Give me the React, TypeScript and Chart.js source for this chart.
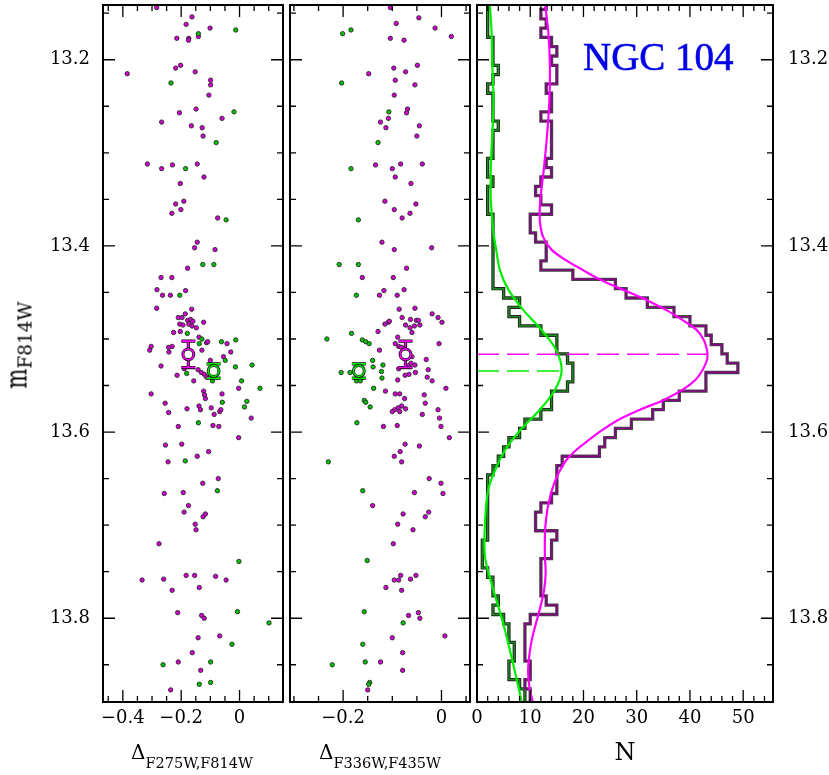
import React, { useEffect, useRef } from "react";
import { Chart, registerables } from "chart.js";

Chart.register(...registerables);

const FONT = "'DejaVu Serif', serif";

// ---------- axis ranges ----------
const M_TOP = 13.1412;
const M_BOTTOM = 13.89;
const P1_XMIN = -0.468;
const P1_XMAX = 0.149;
const P2_XMIN = -0.308;
const P2_XMAX = 0.058;
const P3_XMIN = 0;
const P3_XMAX = 55.6;

// ---------- tick labels / tick marks ----------
const magTicks = [13.2, 13.4, 13.6, 13.8];
const magMinor = [13.15, 13.25, 13.3, 13.35, 13.45, 13.5, 13.55, 13.65, 13.7, 13.75, 13.85];
const p1Ticks = [-0.4, -0.2, 0];
const p1Minor = [-0.45, -0.35, -0.3, -0.25, -0.15, -0.1, -0.05, 0.05, 0.1];
const p2Ticks = [-0.2, 0];
const p2Minor = [-0.3, -0.25, -0.15, -0.1, -0.05, 0.05];
const p3Ticks = [0, 10, 20, 30, 40, 50];
const p3Minor = [2, 4, 6, 8, 12, 14, 16, 18, 22, 24, 26, 28, 32, 34, 36, 38, 42, 44, 46, 48, 52, 54];

// ---------- panel 1: Delta F275W,F814W vs m ----------
const p1Magenta: [number, number][] = [
  [-0.284, 13.144], [-0.163, 13.154], [-0.183, 13.162], [-0.101, 13.166], [-0.141, 13.175], [-0.174, 13.177],
  [-0.215, 13.177], [-0.175, 13.179], [-0.202, 13.206], [-0.219, 13.209], [-0.152, 13.213], [-0.385, 13.215],
  [-0.099, 13.222], [-0.099, 13.227], [-0.105, 13.238], [-0.149, 13.253], [-0.206, 13.257], [-0.06, 13.263],
  [-0.267, 13.267], [-0.165, 13.271], [-0.128, 13.273], [-0.125, 13.282], [-0.316, 13.312], [-0.23, 13.313],
  [-0.145, 13.312], [-0.267, 13.317], [-0.122, 13.326], [-0.203, 13.333], [-0.191, 13.352], [-0.219, 13.355],
  [-0.201, 13.361], [-0.232, 13.365], [-0.075, 13.37], [-0.145, 13.396], [-0.154, 13.402], [-0.084, 13.404],
  [-0.178, 13.424], [-0.269, 13.434], [-0.232, 13.434], [-0.283, 13.447], [-0.185, 13.448], [-0.264, 13.453],
  [-0.237, 13.453], [-0.284, 13.467], [-0.164, 13.468], [-0.186, 13.473], [-0.21, 13.477], [-0.197, 13.477],
  [-0.178, 13.48], [-0.168, 13.479], [-0.16, 13.481], [-0.205, 13.484], [-0.194, 13.485], [-0.174, 13.484],
  [-0.163, 13.486], [-0.123, 13.482], [-0.148, 13.488], [-0.226, 13.493], [-0.203, 13.492], [-0.139, 13.498],
  [-0.113, 13.504], [-0.109, 13.503], [-0.043, 13.505], [-0.303, 13.508], [-0.308, 13.512], [-0.243, 13.509],
  [-0.231, 13.508], [-0.242, 13.514], [-0.129, 13.512], [-0.03, 13.514], [-0.055, 13.519], [-0.269, 13.529],
  [-0.1, 13.523], [-0.189, 13.532], [-0.142, 13.533], [-0.131, 13.536], [-0.121, 13.538], [-0.214, 13.539],
  [-0.113, 13.541], [-0.157, 13.545], [-0.003, 13.553], [-0.303, 13.559], [-0.123, 13.556], [-0.12, 13.56],
  [-0.117, 13.564], [-0.06, 13.559], [-0.255, 13.569], [-0.139, 13.572], [-0.134, 13.576], [-0.18, 13.575],
  [-0.097, 13.574], [-0.068, 13.578], [-0.064, 13.576], [-0.087, 13.581], [-0.243, 13.579], [0.04, 13.585],
  [-0.21, 13.594], [-0.091, 13.593], [-0.071, 13.594], [-0.003, 13.606], [-0.254, 13.614], [-0.198, 13.613],
  [-0.106, 13.621], [-0.245, 13.632], [-0.145, 13.626], [-0.073, 13.65], [-0.126, 13.655], [-0.258, 13.666],
  [-0.193, 13.665], [-0.175, 13.679], [-0.19, 13.686], [-0.117, 13.688], [-0.125, 13.691], [-0.152, 13.699],
  [-0.149, 13.705], [-0.276, 13.72], [-0.334, 13.759], [-0.26, 13.758], [-0.183, 13.754], [-0.154, 13.754],
  [-0.082, 13.755], [-0.046, 13.759], [-0.231, 13.77], [-0.138, 13.767], [-0.212, 13.794], [-0.13, 13.797],
  [-0.121, 13.8], [-0.068, 13.819], [-0.142, 13.821], [-0.162, 13.837], [-0.21, 13.847], [-0.133, 13.856],
  [-0.236, 13.877],
];
const p1Green: [number, number][] = [
  [-0.013, 13.168], [-0.141, 13.172], [-0.235, 13.225], [-0.019, 13.256], [-0.08, 13.289], [-0.185, 13.317],
  [-0.046, 13.372], [-0.126, 13.42], [-0.088, 13.42], [-0.205, 13.453], [-0.179, 13.494], [-0.129, 13.5],
  [-0.138, 13.505], [-0.062, 13.503], [-0.013, 13.501], [-0.049, 13.523], [-0.014, 13.53], [0.043, 13.528],
  [-0.181, 13.537], [-0.093, 13.545], [0.007, 13.545], [0.07, 13.553], [-0.059, 13.568], [0.025, 13.567],
  [0.017, 13.573], [-0.141, 13.59], [-0.186, 13.631], [-0.076, 13.663], [-0.002, 13.739], [-0.007, 13.793],
  [0.101, 13.805], [-0.026, 13.828], [-0.262, 13.85], [-0.099, 13.847], [-0.138, 13.871], [-0.099, 13.869],
];

// ---------- panel 2: Delta F336W,F435W vs m ----------
const p2Magenta: [number, number][] = [
  [-0.104, 13.144], [-0.046, 13.155], [-0.092, 13.161], [-0.013, 13.166], [-0.104, 13.177], [0.02, 13.175],
  [-0.076, 13.179], [-0.049, 13.206], [-0.097, 13.209], [-0.073, 13.213], [-0.148, 13.215], [-0.094, 13.222],
  [-0.054, 13.227], [-0.096, 13.238], [-0.069, 13.253], [-0.071, 13.257], [-0.108, 13.263], [-0.124, 13.267],
  [-0.113, 13.273], [-0.045, 13.271], [-0.05, 13.282], [-0.134, 13.313], [-0.083, 13.312], [-0.039, 13.312],
  [-0.1, 13.317], [-0.094, 13.326], [-0.062, 13.333], [-0.115, 13.352], [-0.052, 13.355], [-0.096, 13.361],
  [-0.064, 13.365], [-0.08, 13.37], [-0.121, 13.396], [-0.096, 13.404], [-0.02, 13.402], [-0.071, 13.424],
  [-0.161, 13.434], [-0.098, 13.434], [-0.117, 13.448], [-0.076, 13.447], [-0.126, 13.453], [-0.09, 13.453],
  [-0.086, 13.468], [-0.054, 13.467], [-0.019, 13.473], [-0.007, 13.477], [-0.08, 13.477], [-0.063, 13.479],
  [-0.051, 13.48], [-0.047, 13.48], [0.001, 13.482], [-0.115, 13.484], [-0.108, 13.482], [-0.106, 13.481],
  [-0.073, 13.485], [-0.055, 13.486], [-0.044, 13.485], [-0.064, 13.488], [-0.129, 13.492], [-0.06, 13.493],
  [-0.089, 13.498], [-0.094, 13.505], [-0.087, 13.508], [-0.081, 13.509], [-0.005, 13.505], [-0.126, 13.512],
  [-0.06, 13.519], [-0.031, 13.522], [-0.062, 13.526], [-0.087, 13.532], [-0.068, 13.529], [-0.054, 13.528],
  [-0.027, 13.533], [-0.074, 13.539], [-0.066, 13.538], [-0.053, 13.536], [-0.029, 13.541], [-0.019, 13.545],
  [-0.089, 13.544], [0.009, 13.553], [-0.114, 13.556], [-0.094, 13.559], [-0.085, 13.559], [-0.075, 13.564],
  [-0.035, 13.56], [-0.033, 13.569], [-0.081, 13.572], [-0.088, 13.574], [-0.073, 13.575], [-0.095, 13.576],
  [-0.1, 13.578], [-0.085, 13.578], [-0.007, 13.576], [-0.039, 13.581], [-0.004, 13.585], [-0.118, 13.594],
  [-0.09, 13.593], [-0.001, 13.594], [0.016, 13.606], [-0.074, 13.613], [-0.045, 13.615], [-0.084, 13.621],
  [-0.096, 13.626], [-0.081, 13.632], [-0.025, 13.65], [-0.001, 13.655], [-0.055, 13.665], [0.003, 13.666],
  [-0.14, 13.679], [-0.078, 13.688], [-0.026, 13.686], [-0.033, 13.691], [-0.089, 13.699], [-0.058, 13.705],
  [-0.098, 13.72], [-0.083, 13.754], [-0.052, 13.754], [-0.096, 13.759], [-0.087, 13.759], [-0.063, 13.758],
  [-0.113, 13.767], [-0.081, 13.77], [-0.067, 13.797], [-0.047, 13.794], [-0.044, 13.8], [-0.1, 13.821],
  [0.007, 13.819], [-0.079, 13.837], [-0.124, 13.847], [-0.079, 13.856], [-0.15, 13.877],
];
const p2Green: [number, number][] = [
  [-0.184, 13.168], [-0.201, 13.172], [-0.203, 13.225], [-0.107, 13.256], [-0.129, 13.289], [-0.184, 13.317],
  [-0.169, 13.372], [-0.208, 13.42], [-0.169, 13.42], [-0.173, 13.453], [-0.183, 13.494], [-0.233, 13.5],
  [-0.161, 13.501], [-0.154, 13.503], [-0.147, 13.505], [-0.14, 13.523], [-0.119, 13.528], [-0.204, 13.536],
  [-0.186, 13.536], [-0.139, 13.53], [-0.122, 13.535], [-0.121, 13.542], [-0.173, 13.545], [-0.165, 13.545],
  [-0.138, 13.553], [-0.157, 13.566], [-0.154, 13.568], [-0.145, 13.573], [-0.172, 13.59], [-0.23, 13.632],
  [-0.16, 13.663], [-0.151, 13.738], [-0.157, 13.793], [-0.078, 13.805], [-0.16, 13.828], [-0.222, 13.85],
  [-0.155, 13.847], [-0.146, 13.869], [-0.148, 13.871],
];

// ---------- mean points with errors ----------
const p1ErrMagenta = { x: -0.1755, y: 13.5165, e: 0.0142 };
const p1ErrGreen = { x: -0.0889, y: 13.5344, e: 0.0077 };
const p2ErrMagenta = { x: -0.0732, y: 13.5165, e: 0.0142 };
const p2ErrGreen = { x: -0.168, y: 13.5344, e: 0.0077 };

// ---------- panel 3: histograms (bin width 0.01 mag) ----------
const binLower = 13.136;
const binWidth = 0.01;
const histMagenta = [
  13, 12, 13, 12, 14, 15, 14, 15, 15, 13,
  14, 14, 12, 14, 14, 14, 14, 13, 14, 12,
  11, 12, 14, 10, 10, 11, 13, 13, 12, 18,
  26, 28, 32, 37, 40, 43, 44, 46, 47, 49,
  43, 43, 38, 35, 33, 29, 26, 24, 23, 16,
  15, 15, 15, 14, 12, 11, 11, 15, 14, 14,
  12, 12, 12, 12, 13, 15, 10, 9, 9, 9,
  9, 10, 10, 9, 10, 10,
];
const histGreen = [
  2, 2, 2, 2, 3, 3, 3, 4, 3, 2,
  3, 3, 3, 4, 3, 3, 3, 2, 2, 3,
  2, 2, 2, 3, 3, 3, 3, 3, 3, 3,
  3, 5, 8, 6, 8, 12, 15, 15, 17, 18,
  18, 17, 14, 14, 12, 9, 8, 6, 5, 4,
  3, 2, 2, 2, 2, 2, 2, 2, 1, 1,
  1, 2, 3, 3, 4, 3, 5, 6, 6, 7,
  7, 6, 6, 8, 9, 9,
];
// smoothed distributions: [m, N]
const curveMagenta: [number, number][] = [
  [13.141, 12.8], [13.171, 13.4], [13.2075, 13.7], [13.243, 13.6], [13.278, 13.2], [13.315, 12.6],
  [13.35, 11.9], [13.372, 11.8], [13.39, 12.4], [13.404, 14.0], [13.415, 16.6], [13.426, 19.9],
  [13.437, 23.4], [13.447, 27.4], [13.458, 31.8], [13.469, 35.6], [13.48, 38.7], [13.49, 41.2],
  [13.501, 42.6], [13.5118, 43.2], [13.5172, 43.3], [13.5226, 43.2], [13.533, 42.4], [13.544, 41.0],
  [13.555, 38.5], [13.566, 34.9], [13.576, 30.6], [13.587, 26.5], [13.598, 23.5], [13.609, 20.9],
  [13.619, 18.7], [13.63, 16.8], [13.641, 15.6], [13.652, 14.7], [13.662, 14.1], [13.673, 13.6],
  [13.684, 13.2], [13.705, 12.8], [13.734, 12.75], [13.751, 12.9], [13.77, 12.6], [13.788, 11.9],
  [13.805, 11.1], [13.823, 10.3], [13.841, 9.8], [13.858, 9.6], [13.876, 9.9], [13.89, 10.5],
];
const curveGreen: [number, number][] = [
  [13.141, 2.4], [13.171, 2.75], [13.2075, 2.9], [13.243, 3.1], [13.278, 2.9], [13.315, 2.6],
  [13.35, 2.6], [13.386, 3.1], [13.404, 3.6], [13.426, 4.3], [13.447, 5.9], [13.469, 8.7],
  [13.49, 12.1], [13.512, 14.9], [13.5344, 15.9], [13.555, 14.6], [13.576, 11.8], [13.598, 8.1],
  [13.619, 5.3], [13.641, 3.4], [13.662, 2.1], [13.698, 1.5], [13.734, 1.5], [13.77, 3.1],
  [13.805, 4.9], [13.842, 6.5], [13.877, 7.9], [13.89, 8.4],
];
const peakMagenta = { m: 13.5165, n: 43.3 };
const peakGreen = { m: 13.5344, n: 15.9 };

// ---------- colors ----------
const MAG_DOT = "#d400d4";
const GRN_DOT = "#00c400";
const MAG_LINE = "#ff00ff";
const GRN_LINE = "#00ee00";
const MAG_HIST = "#8a008a";
const GRN_HIST = "#1c8c1c";

const tickFont = { family: FONT, size: 18 };
const fmtSigned = (v: number) =>
  Math.abs(v) < 1e-9 ? "0" : v < 0 ? "\u2212" + Math.abs(v).toFixed(1) : v.toFixed(1);

const toXY = (a: [number, number][]) => a.map(([x, y]) => ({ x, y }));
const curveXY = (a: [number, number][]) => a.map(([m, n]) => ({ x: n, y: m }));
function histOutline(counts: number[]) {
  const pts: { x: number; y: number }[] = [];
  counts.forEach((c, i) => {
    const lo = binLower + i * binWidth;
    pts.push({ x: c, y: lo }, { x: c, y: lo + binWidth });
  });
  return pts;
}

function xScale(min: number, max: number, ticks: number[], fmt: (v: number) => string) {
  return {
    type: "linear",
    position: "bottom",
    min,
    max,
    afterBuildTicks: (s: any) => {
      s.ticks = ticks.map((v) => ({ value: v }));
    },
    afterFit: (s: any) => {
      s.height = 73;
      s.paddingLeft = 0;
      s.paddingRight = 0;
    },
    ticks: {
      font: tickFont,
      color: "#000",
      padding: 6,
      maxRotation: 0,
      autoSkip: false,
      callback: (v: any) => fmt(Number(v)),
    },
    grid: { display: false, drawTicks: false },
    border: { display: false },
  };
}
function yScale(display: boolean, position: string, width: number) {
  return {
    type: "linear",
    position,
    display,
    min: M_TOP,
    max: M_BOTTOM,
    reverse: true,
    afterBuildTicks: (s: any) => {
      s.ticks = magTicks.map((v) => ({ value: v }));
    },
    afterFit: (s: any) => {
      s.width = width;
      s.paddingTop = 0;
      s.paddingBottom = 0;
    },
    ticks: {
      font: tickFont,
      color: "#000",
      padding: position === "left" ? 13 : 15,
      autoSkip: false,
      callback: (v: any) => Number(v).toFixed(1),
    },
    grid: { display: false, drawTicks: false },
    border: { display: false },
  };
}

type Err = { x: number; y: number; e: number; color: string };
function panelPlugin(xMajor: number[], xMinor: number[], errs: Err[]) {
  return {
    id: "panelFrame",
    afterDatasetsDraw(chart: any) {
      const { ctx } = chart;
      const xs = chart.scales.x;
      const ys = chart.scales.y;
      errs.forEach((er) => {
        const px = xs.getPixelForValue(er.x);
        const py = ys.getPixelForValue(er.y);
        const t = ys.getPixelForValue(er.y - er.e);
        const b = ys.getPixelForValue(er.y + er.e);
        const cap = 7;
        const path = () => {
          ctx.beginPath();
          ctx.moveTo(px, t);
          ctx.lineTo(px, b);
          ctx.moveTo(px - cap, t);
          ctx.lineTo(px + cap, t);
          ctx.moveTo(px - cap, b);
          ctx.lineTo(px + cap, b);
        };
        ctx.save();
        path();
        ctx.strokeStyle = "#111";
        ctx.lineWidth = 3.2;
        ctx.stroke();
        path();
        ctx.strokeStyle = er.color;
        ctx.lineWidth = 1.6;
        ctx.stroke();
        ctx.beginPath();
        ctx.arc(px, py, 5.4, 0, Math.PI * 2);
        ctx.fillStyle = "#fff";
        ctx.fill();
        ctx.strokeStyle = "#111";
        ctx.lineWidth = 3.0;
        ctx.stroke();
        ctx.strokeStyle = er.color;
        ctx.lineWidth = 1.5;
        ctx.stroke();
        ctx.restore();
      });
    },
    afterDraw(chart: any) {
      const { ctx, chartArea: a } = chart;
      const xs = chart.scales.x;
      const ys = chart.scales.y;
      ctx.save();
      ctx.strokeStyle = "#000";
      ctx.lineWidth = 1.3;
      const xt = (vals: number[], len: number) =>
        vals.forEach((v) => {
          const p = xs.getPixelForValue(v);
          if (p < a.left - 0.5 || p > a.right + 0.5) return;
          ctx.beginPath();
          ctx.moveTo(p, a.bottom);
          ctx.lineTo(p, a.bottom - len);
          ctx.moveTo(p, a.top);
          ctx.lineTo(p, a.top + len);
          ctx.stroke();
        });
      const yt = (vals: number[], len: number) =>
        vals.forEach((v) => {
          const p = ys.getPixelForValue(v);
          if (p < a.top - 0.5 || p > a.bottom + 0.5) return;
          ctx.beginPath();
          ctx.moveTo(a.left, p);
          ctx.lineTo(a.left + len, p);
          ctx.moveTo(a.right, p);
          ctx.lineTo(a.right - len, p);
          ctx.stroke();
        });
      xt(xMajor, 12);
      xt(xMinor, 6);
      yt(magTicks, 12);
      yt(magMinor, 6);
      ctx.lineWidth = 2;
      ctx.strokeRect(a.left, a.top, a.right - a.left, a.bottom - a.top);
      ctx.restore();
    },
  };
}

const dotStyle = (color: string) => ({
  pointRadius: 2.2,
  pointBorderWidth: 0.9,
  pointBorderColor: "#2a2a2a",
  pointBackgroundColor: color,
  showLine: false,
});

const common = {
  animation: false,
  responsive: false,
  maintainAspectRatio: false,
  events: [],
  plugins: { legend: { display: false }, tooltip: { enabled: false } },
};

function scatterPanel(
  mag: [number, number][],
  grn: [number, number][],
  xmin: number,
  xmax: number,
  ticks: number[],
  minor: number[],
  errs: Err[],
  showY: boolean,
  padLeft: number,
  padRight: number
): any {
  return {
    type: "scatter",
    data: {
      datasets: [
        { data: toXY(grn), ...dotStyle(GRN_DOT), order: 1 },
        { data: toXY(mag), ...dotStyle(MAG_DOT), order: 2 },
      ],
    },
    options: {
      ...common,
      layout: { padding: { left: padLeft, right: padRight, top: 5, bottom: 0 } },
      scales: {
        x: xScale(xmin, xmax, ticks, fmtSigned),
        y: yScale(showY, "left", showY ? 103 : 0),
      },
    },
    plugins: [panelPlugin(ticks, minor, errs)],
  };
}

function histPanel(): any {
  const line = (data: any[], color: string, width: number, order: number, extra: any = {}) => ({
    data,
    showLine: true,
    borderColor: color,
    borderWidth: width,
    pointRadius: 0,
    tension: 0,
    fill: false,
    order,
    ...extra,
  });
  const step = { stepped: "after", borderJoinStyle: "miter" };
  return {
    type: "scatter",
    data: {
      datasets: [
        line([{ x: 0, y: peakMagenta.m }, { x: peakMagenta.n, y: peakMagenta.m }], MAG_LINE, 1.5, 0, { borderDash: [22, 8] }),
        line([{ x: 0, y: peakGreen.m }, { x: peakGreen.n, y: peakGreen.m }], GRN_LINE, 1.5, 0, { borderDash: [22, 8] }),
        line(curveXY(curveMagenta), MAG_LINE, 2.2, 1, { tension: 0.3 }),
        line(curveXY(curveGreen), GRN_LINE, 2.2, 1, { tension: 0.3 }),
        line(histOutline(histMagenta), MAG_HIST, 1.4, 2, step),
        line(histOutline(histGreen), GRN_HIST, 1.4, 2, step),
        line(histOutline(histMagenta), "#444", 3.3, 3, step),
        line(histOutline(histGreen), "#222", 3.3, 3, step),
      ],
    },
    options: {
      ...common,
      layout: { padding: { left: 477, right: 0, top: 5, bottom: 0 } },
      scales: {
        x: xScale(P3_XMIN, P3_XMAX, p3Ticks, (v) => String(Math.round(v))),
        y: yScale(true, "right", 56),
      },
    },
    plugins: [panelPlugin(p3Ticks, p3Minor, [])],
  };
}

const canvasStyle: React.CSSProperties = { position: "absolute", left: 0, top: 0, width: 829, height: 775 };

export default function App() {
  const c1 = useRef<HTMLCanvasElement>(null);
  const c2 = useRef<HTMLCanvasElement>(null);
  const c3 = useRef<HTMLCanvasElement>(null);

  useEffect(() => {
    const charts = [
      new Chart(
        c1.current as HTMLCanvasElement,
        scatterPanel(p1Magenta, p1Green, P1_XMIN, P1_XMAX, p1Ticks, p1Minor,
          [{ ...p1ErrMagenta, color: MAG_LINE }, { ...p1ErrGreen, color: GRN_LINE }], true, 0, 829 - 283)
      ),
      new Chart(
        c2.current as HTMLCanvasElement,
        scatterPanel(p2Magenta, p2Green, P2_XMIN, P2_XMAX, p2Ticks, p2Minor,
          [{ ...p2ErrMagenta, color: MAG_LINE }, { ...p2ErrGreen, color: GRN_LINE }], false, 290, 829 - 470)
      ),
      new Chart(c3.current as HTMLCanvasElement, histPanel()),
    ];
    return () => charts.forEach((c) => c.destroy());
  }, []);

  const txt: React.CSSProperties = { position: "absolute", fontFamily: FONT, color: "#000", whiteSpace: "nowrap", lineHeight: 1 };

  return (
    <div style={{ position: "absolute", left: 0, top: 0, width: 829, height: 775, background: "#fff", overflow: "hidden" }}>
      <canvas ref={c1} width={829} height={775} style={canvasStyle} />
      <canvas ref={c2} width={829} height={775} style={canvasStyle} />
      <canvas ref={c3} width={829} height={775} style={canvasStyle} />

      <div
        style={{
          ...txt,
          left: 20,
          top: 345,
          transform: "translate(-50%, -50%) rotate(-90deg)",
        }}
      >
        <span
          style={{
            fontSize: 21,
            display: "inline-block",
            transform: "scaleY(1.45)",
            transformOrigin: "50% 80%",
          }}
        >
          m
        </span>
        <span style={{ fontSize: 18.5, position: "relative", top: 5 }}>F814W</span>
      </div>

      <div style={{ ...txt, left: 192, top: 742, transform: "translateX(-50%)" }}>
        <span style={{ fontSize: 20 }}>Δ</span>
        <span style={{ fontSize: 14.5, position: "relative", top: 9 }}>F275W,F814W</span>
      </div>
      <div style={{ ...txt, left: 380, top: 742, transform: "translateX(-50%)" }}>
        <span style={{ fontSize: 20 }}>Δ</span>
        <span style={{ fontSize: 14.5, position: "relative", top: 9 }}>F336W,F435W</span>
      </div>
      <div style={{ ...txt, left: 625, top: 740, transform: "translateX(-50%)", fontSize: 24 }}>N</div>

      <div
        style={{
          ...txt,
          left: 583,
          top: 37,
          fontFamily: "'Liberation Serif', serif",
          fontSize: 39,
          color: "#0000e6",
          WebkitTextStroke: "0.6px #0000e6",
        }}
      >
        NGC 104
      </div>
    </div>
  );
}
